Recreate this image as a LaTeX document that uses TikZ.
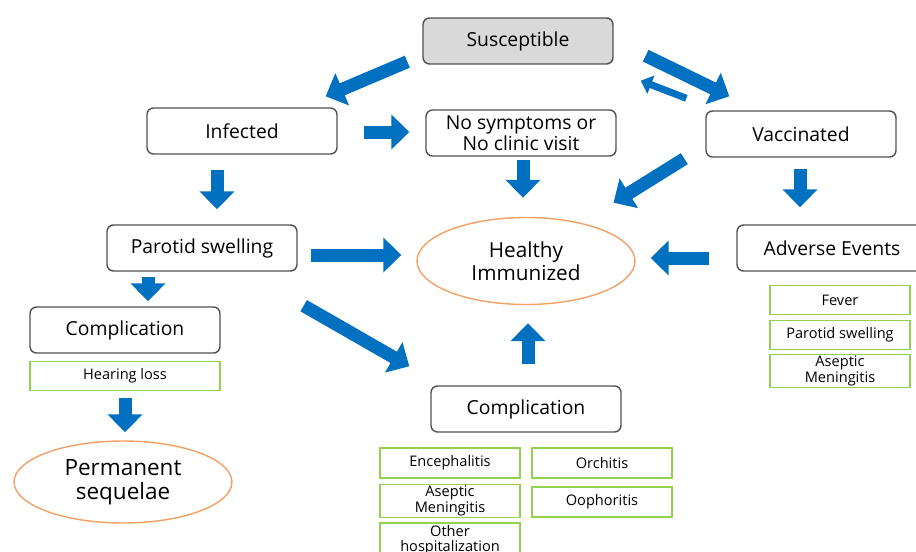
\documentclass[tikz,border=0pt]{standalone}
\usepackage{fontspec}
\setmainfont{Open Sans}
\usetikzlibrary{arrows.meta,shapes.geometric}
\definecolor{arrowblue}{RGB}{0, 112, 192}
\definecolor{statefill}{RGB}{217, 217, 217}
\definecolor{stategray}{RGB}{80, 80, 80}
\definecolor{listgreen}{RGB}{146, 208, 80}
\definecolor{immuneorange}{RGB}{244, 160, 100}

\begin{document}
\begin{tikzpicture}[
    x=0.02cm, y=-0.02cm,
    state/.style={rectangle, rounded corners=0.13cm, minimum width=3.8cm, minimum height=0.92cm, text centered, align=center, draw=stategray, line width=0.8pt, inner sep=1pt, font=\fontsize{11}{11.8}\selectfont},
    listbox/.style={rectangle, minimum width=2.8cm, minimum height=0.58cm, text centered, align=center, draw=listgreen, line width=0.9pt, inner sep=1pt, font=\fontsize{8.3}{8.8}\selectfont},
    outcome/.style={ellipse, minimum width=4.36cm, minimum height=1.74cm, align=center, draw=immuneorange, line width=0.8pt, inner sep=0pt},
    bigarrow/.style={-{Triangle[length=0.36cm, width=0.68cm]}, line width=0.26cm, draw=arrowblue},
    smallarrow/.style={-{Triangle[length=0.22cm, width=0.38cm]}, line width=0.14cm, draw=arrowblue}
]

% Background
\useasboundingbox (0,0) rectangle (916,551);
\fill[white] (0,0) rectangle (916,551);

% States
\node[state, fill=statefill] (sus) at (518,41) {Susceptible};
\node[state] (inf) at (242,131) {Infected};
\node[state] (nosym) at (521,133) {No symptoms or\\ No clinic visit};
\node[state] (vac) at (801,134) {Vaccinated};
\node[state] (parotid) at (202,248) {Parotid swelling};
\node[state] (adverse) at (832,248) {Adverse Events};
\node[state] (compleft) at (125,330) {Complication};
\node[state] (compbot) at (526,409) {Complication};

% Outcomes
\node[outcome, font=\fontsize{11.8}{13.2}\selectfont] (healthy) at (526,261) {Healthy\\ Immunized};
\node[outcome, minimum height=1.64cm, font=\fontsize{12.8}{14}\selectfont] (sequelae) at (123,482) {Permanent\\ sequelae};

% Lists of events
\node[listbox, minimum width=3.8cm] (hearing) at (125,376) {Hearing loss};
\node[listbox] (fever) at (840,300) {Fever};
\node[listbox] (aeparotid) at (840,335) {Parotid swelling};
\node[listbox, minimum height=0.6cm] (aemening) at (840,371) {Aseptic\\ Meningitis};
\node[listbox, minimum height=0.6cm] (enceph) at (450,463) {Encephalitis};
\node[listbox, minimum height=0.6cm] (orch) at (602,463) {Orchitis};
\node[listbox, minimum height=0.6cm] (mening) at (450,501) {Aseptic\\ Meningitis};
\node[listbox, minimum height=0.6cm] (ooph) at (602,502) {Oophoritis};
\node[listbox, minimum height=0.62cm] (otherhosp) at (450,540) {Other\\ hospitalization};

% Transitions
\draw[bigarrow] ([shift={(-15,-3)}]sus.south west) -- ([shift={(-12,-11)}]inf.north east);
\draw[bigarrow] ([shift={(32,-9)}]sus.south east) -- ([shift={(24,-14)}]vac.north west);
\draw[smallarrow] ([shift={(-19,-12)}]vac.north west) -- ([shift={(27,16)}]sus.south east);
\draw[bigarrow] ([shift={(26,1)}]inf.east) -- ([shift={(-16,-1)}]nosym.west);
\draw[bigarrow] ([shift={(2,3)}]nosym.south) -- ([shift={(-3,-19)}]healthy.north);
\draw[bigarrow] ([shift={(-21,1)}]vac.south west) -- ([shift={(10,-27)}]healthy.north east);
\draw[bigarrow] ([shift={(-1,11)}]vac.south) -- ([shift={(-32,-17)}]adverse.north);
\draw[bigarrow] ([shift={(-25,15)}]inf.south) -- ([shift={(15,-15)}]parotid.north);
\draw[bigarrow] ([shift={(13,7)}]parotid.east) -- ([shift={(-15,-6)}]healthy.west);
\draw[bigarrow] ([shift={(-27,10)}]adverse.west) -- ([shift={(15,-3)}]healthy.east);
\draw[bigarrow] ([shift={(-54,5)}]parotid.south) -- ([shift={(23,-5)}]compleft.north);
\draw[bigarrow] ([shift={(6,34)}]parotid.south east) -- ([shift={(-21,-19)}]compbot.north west);
\draw[bigarrow] ([shift={(2,-21)}]compbot.north) -- ([shift={(2,18)}]healthy.south);
\draw[bigarrow] ([shift={(0,7)}]hearing.south) -- ([shift={(2,-8)}]sequelae.north);

\end{tikzpicture}
\end{document}
